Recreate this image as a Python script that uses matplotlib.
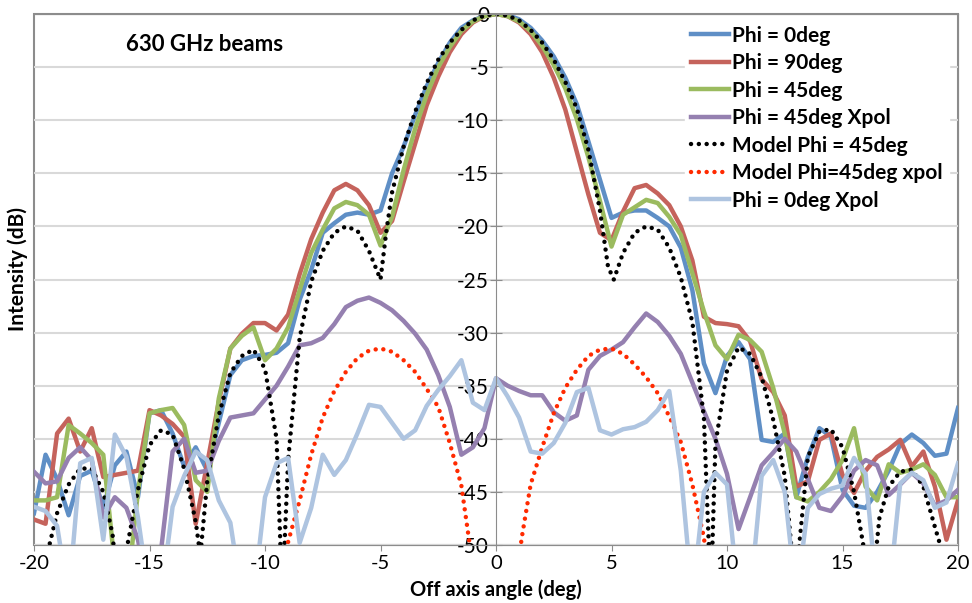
import numpy as np
import matplotlib
matplotlib.use("Agg")
import matplotlib.pyplot as plt

plt.rcParams['font.family'] = ['Lato', 'DejaVu Sans']
plt.rcParams['axes.unicode_minus'] = False

# measured angles (deg), 0.5 deg steps
angle = np.arange(-20, 20.01, 0.5)

phi0 = [-47.0, -41.5, -43.8, -47.2, -43.5, -43.0, -46.5, -42.5, -41.2, -45.5,
        -37.6, -37.3, -39.5, -42.6, -40.8, -43.0, -38.5, -34.0, -32.6, -32.2,
        -32.1, -31.9, -31.0, -26.9, -24.1, -20.6, -19.7, -18.9, -18.7, -18.9,
        -18.5, -15.0, -12.5, -9.5, -6.8, -4.6, -2.7, -1.3, -0.6, -0.2,
        0.0,
        -0.1, -0.5, -1.3, -2.5, -4.0, -6.0, -8.5, -12.0, -15.6, -19.2,
        -18.7, -18.5, -18.5, -19.2, -20.0, -22.0, -26.0, -32.9, -35.7, -32.2,
        -30.9, -32.5, -40.1, -40.3, -39.5, -45.5, -41.7, -39.0, -39.8, -44.8,
        -46.3, -46.5, -45.0, -43.0, -40.5, -39.6, -40.4, -41.6, -41.4, -37.1]

phi90 = [-47.6, -48.0, -39.5, -38.1, -41.2, -39.0, -43.6, -43.4, -43.2, -43.0,
         -37.3, -37.8, -38.6, -39.8, -48.0, -42.3, -36.5, -31.5, -30.1, -29.1,
         -29.1, -29.8, -28.3, -24.5, -21.2, -18.7, -16.6, -16.0, -16.6, -18.0,
         -20.6, -19.5, -15.8, -12.2, -8.6, -5.9, -3.6, -1.9, -0.8, -0.2,
         0.0,
         -0.2, -0.8, -1.9, -3.6, -6.0, -9.0, -13.0, -17.0, -20.6, -21.3,
         -18.6, -16.4, -16.1, -16.9, -18.0, -20.0, -23.2, -28.5, -29.1, -29.2,
         -29.4, -30.8, -34.4, -35.6, -37.8, -44.5, -44.0, -40.1, -39.5, -43.4,
         -45.1, -43.0, -41.7, -41.0, -40.1, -42.6, -41.2, -44.5, -49.5, -45.8]

phi45 = [-45.8, -45.8, -45.5, -38.7, -39.5, -40.4, -41.5, -52.0, -55.0, -45.0,
         -37.6, -37.3, -37.1, -38.7, -43.9, -45.0, -36.2, -31.5, -30.3, -29.5,
         -32.6, -31.5, -29.5, -26.0, -22.5, -20.3, -18.3, -17.7, -18.0, -18.9,
         -21.8, -19.1, -14.7, -10.8, -7.6, -5.0, -3.1, -1.6, -0.7, -0.2,
         0.0,
         -0.2, -0.7, -1.6, -3.0, -4.8, -7.0, -9.9, -13.5, -17.6, -21.9,
         -18.9, -18.2, -17.5, -17.8, -19.1, -20.8, -24.4, -28.0, -31.2, -32.5,
         -30.2, -30.7, -31.8, -35.2, -39.5, -45.5, -45.9, -45.0, -43.8, -42.0,
         -39.0, -44.5, -45.8, -42.4, -43.2, -42.9, -42.4, -43.4, -45.5, -45.5]

phi45_xpol = [-43.1, -44.2, -44.0, -41.8, -40.8, -42.0, -47.4, -45.5, -46.5, -49.5,
              -55.0, -50.5, -41.2, -40.0, -43.2, -43.0, -40.2, -38.0, -37.8, -37.6,
              -36.3, -35.0, -33.2, -31.2, -31.0, -30.5, -29.2, -27.6, -27.0, -26.7,
              -27.2, -27.9, -28.9, -30.1, -31.6, -34.0, -37.0, -41.5, -40.8, -39.0,
              -34.3,
              -35.0, -35.5, -35.9, -35.9, -37.5, -38.3, -37.8, -33.5, -32.2, -31.6,
              -30.9, -29.5, -28.2, -29.0, -30.3, -32.0, -34.7, -37.4, -40.0, -43.3,
              -48.5, -45.5, -42.5, -41.3, -40.0, -41.2, -43.8, -46.5, -46.8, -45.4,
              -43.0, -42.0, -42.5, -45.3, -44.3, -43.2, -44.2, -46.3, -45.8, -44.8]

phi0_xpol = [-46.4, -46.8, -48.2, -55.0, -42.3, -41.8, -49.5, -39.6, -41.7, -47.4,
             -55.0, -55.0, -46.4, -43.5, -41.2, -42.0, -45.8, -47.9, -55.0, -55.0,
             -45.5, -42.3, -41.8, -49.8, -46.5, -41.5, -43.4, -42.0, -39.5, -36.8,
             -37.0, -38.5, -40.0, -39.2, -36.9, -35.4, -34.1, -32.6, -36.6, -37.3,
             -34.3,
             -36.0, -38.0, -41.2, -41.4, -40.4, -38.5, -35.6, -35.2, -39.2, -39.6,
             -39.1, -38.9, -38.4, -37.3, -35.5, -43.0, -55.0, -45.0, -43.2, -44.3,
             -55.0, -55.0, -43.5, -42.0, -45.0, -55.0, -46.5, -45.2, -44.7, -44.4,
             -41.8, -43.3, -55.0, -55.0, -44.2, -43.2, -43.9, -46.5, -46.0, -42.3]

# model curves
model_angle = [-20, -19.5, -19, -18.5, -18, -17.5, -17, -16.6, -16.3, -16, -15.5,
               -15, -14.5, -14, -13.5, -13, -12.8, -12.5, -12, -11.5, -11, -10.5,
               -10, -9.5, -9.25, -9, -8.5, -8, -7.5, -7, -6.5, -6, -5.5, -5.0,
               -4.75, -4.5, -4, -3.5, -3, -2.5, -2, -1.5, -1, -0.5, 0,
               0.5, 1, 1.5, 2, 2.5, 3, 3.5, 4, 4.5, 4.85, 5.1, 5.5, 6, 6.5, 7,
               7.5, 8, 8.5, 9, 9.3, 9.5, 10, 10.5, 11, 11.5, 12, 12.5, 12.95,
               13.5, 14, 14.5, 15, 15.5, 15.9, 16.2, 16.6, 17, 17.5, 18, 18.5,
               19, 19.5, 20]
model_phi45 = [-54.0, -51.5, -47.0, -44.3, -42.8, -42.8, -45.0, -49.0, -56.0, -50.5, -44.8,
               -40.6, -39.2, -39.6, -42.8, -47.8, -51.0, -44.0, -37.8, -33.8, -32.2, -31.6,
               -33.4, -40.0, -55.0, -42.0, -30.5, -25.2, -22.3, -20.6, -20.0, -20.4, -22.3, -25.0,
               -20.5, -16.8, -12.5, -9.2, -6.5, -4.3, -2.7, -1.5, -0.6, -0.15, 0.0,
               -0.15, -0.6, -1.5, -2.7, -4.3, -6.4, -8.9, -12.8, -18.5, -23.8, -25.0, -22.5,
               -20.6, -20.0, -20.3, -22.0, -24.8, -29.0, -38.0, -55.0, -40.5, -33.6, -31.4,
               -32.0, -34.2, -38.2, -43.5, -54.0, -41.7, -39.3, -39.1, -40.8, -45.0, -50.0,
               -56.0, -47.4, -44.5, -43.1, -42.9, -44.5, -48.3, -52.0, -55.0]

xpol_angle = [-9.5, -9.1, -8.5, -8, -7.5, -7, -6.5, -6, -5.5, -5, -4.5, -4, -3.5,
              -3, -2.5, -2, -1.5, -1.2, -1, -0.5, 0, 0.5, 1, 1.1, 1.5, 2, 2.5, 3,
              3.5, 4, 4.5, 5, 5.5, 6, 6.5, 7, 7.5, 8, 8.5, 9, 9.5]
model_xpol = [-60.0, -50.5, -45.8, -41.5, -38.0, -35.5, -33.7, -32.4, -31.7, -31.5, -31.8,
              -32.6, -33.7, -35.3, -37.0, -40.4, -44.4, -49.0, -52.0, -60.0, -70.0, -60.0,
              -52.0, -49.5, -44.3, -40.8, -37.6, -35.2, -33.5, -32.2, -31.6, -31.5, -32.0,
              -33.0, -34.2, -35.7, -37.9, -40.3, -44.3, -49.3, -58.0]

fig = plt.figure(figsize=(9.72, 6.03), dpi=100)
ax = fig.add_axes([34 / 972, 1 - 545 / 603, 924 / 972, 531 / 603])

lw = 3.2
dots = (0, (0.01, 1.75))
ax.plot(angle, phi0, color='#5F8FC6', lw=lw, label='Phi = 0deg')
ax.plot(angle, phi90, color='#C5635C', lw=lw, label='Phi = 90deg')
ax.plot(angle, phi45, color='#9BBB5F', lw=lw, label='Phi = 45deg')
ax.plot(angle, phi45_xpol, color='#9580B0', lw=lw, label='Phi = 45deg Xpol')
ax.plot(model_angle, model_phi45, color='black', lw=3.2, ls=dots,
        dash_capstyle='round', label='Model Phi = 45deg')
ax.plot(xpol_angle, model_xpol, color='#FF2A00', lw=3.2, ls=dots,
        dash_capstyle='round', label='Model Phi=45deg xpol')
ax.plot(angle, phi0_xpol, color='#AEC4E0', lw=lw, label='Phi = 0deg Xpol')

ax.set_xlim(-20, 20)
ax.set_ylim(-50, 0)
ax.set_xticks(range(-20, 21, 5))
ax.set_yticks(range(-50, 1, 5))
ax.grid(axis='y', color='#D9D9D9', lw=1.5)
ax.set_axisbelow(True)

# y axis drawn through zero, frame round the plot area
for s in ['top', 'right', 'bottom']:
    ax.spines[s].set_color('#8C8C8C')
ax.spines['left'].set_position(('data', 0))
ax.spines['left'].set_color('#8C8C8C')
ax.patch.set_edgecolor('#8C8C8C')
ax.patch.set_linewidth(1.5)
ax.tick_params(axis='y', direction='inout', length=8, color='#8C8C8C',
               labelsize=15, pad=1)
ax.tick_params(axis='x', direction='out', length=4, color='#8C8C8C',
               labelsize=14.5, pad=3.5)

ax.set_xlabel('Off axis angle (deg)', fontsize=14.5, fontweight='bold')
ax.set_ylabel('Intensity (dB)', fontsize=15, fontweight='bold')
ax.xaxis.set_label_coords(0.5, -0.065)
ax.yaxis.set_label_coords(-0.007, 0.52)

ax.text(0.1, 0.943, '630 GHz beams', transform=ax.transAxes,
        fontsize=16, fontweight='bold', va='center')

leg = ax.legend(loc='upper right', bbox_to_anchor=(0.99, 0.99), frameon=True,
                fontsize=15, handlelength=1.8, handletextpad=0.15,
                labelspacing=0.36, borderpad=0.3, borderaxespad=0)
leg.get_frame().set_edgecolor('white')
leg.get_frame().set_facecolor('white')
leg.get_frame().set_alpha(1)
for t in leg.get_texts():
    t.set_fontweight('bold')

fig.savefig('out.png', dpi=100)
